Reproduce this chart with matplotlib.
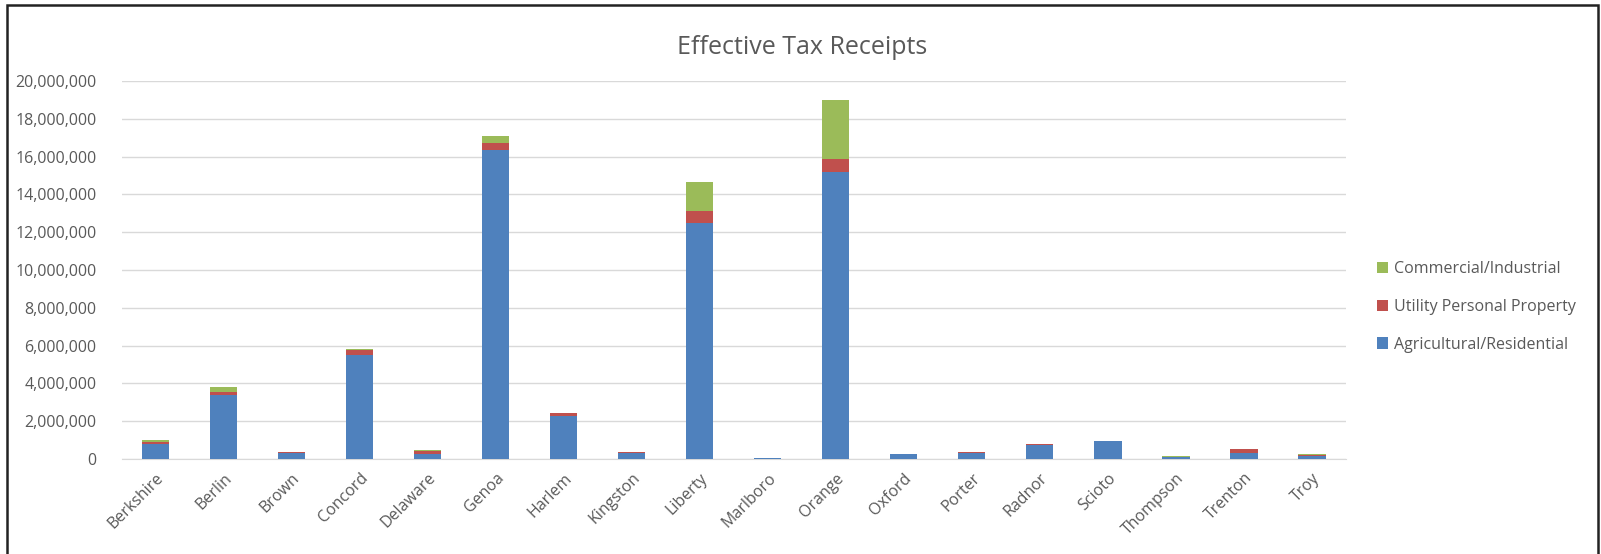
import matplotlib.pyplot as plt
from matplotlib.patches import Rectangle
from matplotlib.ticker import FuncFormatter

plt.rcParams['font.family'] = ['Open Sans', 'DejaVu Sans']

towns = ['Berkshire', 'Berlin', 'Brown', 'Concord', 'Delaware', 'Genoa', 'Harlem',
         'Kingston', 'Liberty', 'Marlboro', 'Orange', 'Oxford', 'Porter', 'Radnor',
         'Scioto', 'Thompson', 'Trenton', 'Troy']
agri = [790000, 3400000, 330000, 5520000, 250000, 16370000, 2260000, 340000,
        12500000, 30000, 15170000, 240000, 340000, 740000, 930000, 120000,
        330000, 180000]
util = [100000, 160000, 25000, 230000, 170000, 340000, 150000, 15000, 600000,
        10000, 690000, 10000, 15000, 35000, 20000, 10000, 180000, 50000]
comm = [100000, 270000, 10000, 80000, 40000, 380000, 20000, 10000, 1550000,
        10000, 3110000, 5000, 10000, 10000, 10000, 10000, 10000, 20000]

blue = '#4F81BD'
red = '#C0504D'
green = '#9BBB59'
txt = '#595959'

fig = plt.figure(figsize=(16.01, 5.54), dpi=100)
ax = fig.add_axes([0.076, 0.1715, 0.7647, 0.6823])

x = range(len(towns))
bottom2 = [a + u for a, u in zip(agri, util)]
b1 = ax.bar(x, agri, width=0.4, color=blue, linewidth=0,
            label='Agricultural/Residential', zorder=3)
b2 = ax.bar(x, util, width=0.4, bottom=agri, color=red, linewidth=0,
            label='Utility Personal Property', zorder=3)
b3 = ax.bar(x, comm, width=0.4, bottom=bottom2, color=green, linewidth=0,
            label='Commercial/Industrial', zorder=3)

ax.set_xlim(-0.5, len(towns) - 0.5)
ax.set_ylim(0, 20000000)
ax.set_yticks(range(0, 20000001, 2000000))
ax.yaxis.set_major_formatter(FuncFormatter(lambda v, p: f'{int(v):,}'))
ax.grid(axis='y', color='#d9d9d9', linewidth=1, zorder=0)
ax.set_xticks(list(x))
ax.set_xticklabels(towns, rotation=45, ha='right', rotation_mode='anchor')
ax.tick_params(axis='both', length=0, labelsize=11.5, labelcolor=txt)
ax.tick_params(axis='y', pad=18)
ax.tick_params(axis='x', pad=8)
for s in ['top', 'right', 'left']:
    ax.spines[s].set_visible(False)
ax.spines['bottom'].set_color('#d9d9d9')

fig.text(0.501, 0.915, 'Effective Tax Receipts', ha='center', va='center',
         fontsize=18, color=txt)

ax.legend(handles=[b3, b2, b1], loc='center left',
          bbox_to_anchor=(0.851, 0.4458), bbox_transform=fig.transFigure,
          frameon=False, fontsize=11.5, labelcolor=txt, handlelength=0.7,
          handleheight=0.7, handletextpad=0.35, labelspacing=1.35)

# chart border
fig.patches.append(Rectangle((7 / 1601, -0.05), (1598 - 7) / 1601, 1.05 - 5 / 554,
                             transform=fig.transFigure, fill=False,
                             edgecolor='#222222', linewidth=1.8))

fig.savefig('out.png', dpi=100)
